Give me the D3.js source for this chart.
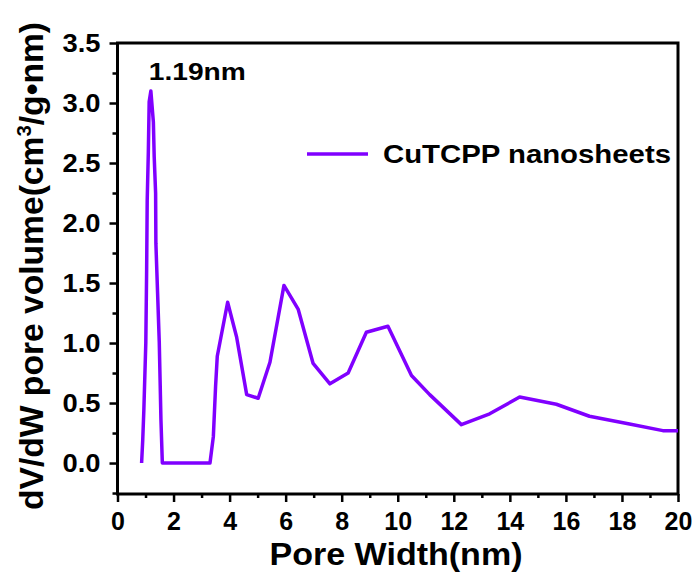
<!DOCTYPE html>
<html>
<head>
<meta charset="utf-8">
<script src="https://cdn.jsdelivr.net/npm/d3@7"></script>
<style>
  body { margin: 0; background: #fff; }
  text { font-family: Arial, "Liberation Sans", sans-serif; font-weight: bold; fill: #000; }
</style>
</head>
<body>
<svg width="699" height="577"></svg>
<script>
// pore width (nm) and dV/dW values
var poreWidth = [0.86, 0.90, 0.94, 1.01, 1.04, 1.06, 1.10, 1.13, 1.19, 1.28, 1.31, 1.36, 1.37, 1.43, 1.49, 1.52, 1.55, 1.60,
    3.30, 3.42, 3.50, 3.56, 3.93, 4.25, 4.61, 5.02, 5.44, 5.94, 6.45, 6.98, 7.58, 8.23, 8.88, 9.65,
    10.49, 11.14, 12.27, 13.28, 14.35, 15.66, 16.84, 18.27, 19.46, 20.0];
var poreVolume = [0, 0.19, 0.44, 1.00, 1.61, 2.19, 2.59, 3.01, 3.10, 2.84, 2.55, 2.25, 1.83, 1.42, 1.01, 0.69, 0.36, 0,
    0, 0.22, 0.64, 0.89, 1.34, 1.05, 0.57, 0.54, 0.84, 1.48, 1.28, 0.83, 0.66, 0.75, 1.09, 1.14,
    0.73, 0.57, 0.32, 0.41, 0.55, 0.49, 0.39, 0.325, 0.27, 0.27];

var seriesName = 'CuTCPP nanosheets';
var peakLabel = '1.19nm';
var peakX = 1.19;
var peakY = 3.10;

var xTicks = [0, 2, 4, 6, 8, 10, 12, 14, 16, 18, 20];
var xMinorTicks = [1, 3, 5, 7, 9, 11, 13, 15, 17, 19];
var yTicks = [0, 0.5, 1.0, 1.5, 2.0, 2.5, 3.0, 3.5];
var yMinorTicks = [-0.25, 0.25, 0.75, 1.25, 1.75, 2.25, 2.75, 3.25];

var lineColor = '#8000ff';

var svg = d3.select('svg');

var plot = {l: 117.5, r: 678, t: 43, b: 494};

var xScale = d3.scaleLinear()
    .domain([0, 20])
    .range([plot.l, plot.r]);
var yScale = d3.scaleLinear()
    .domain([-0.258, 3.5])
    .range([plot.b, plot.t]);

var data = poreWidth.map(function(x, i) {
    return {x: x, y: poreVolume[i]};
});

// minor ticks first, majors on top
svg.append('g')
    .attr('transform', 'translate(0,' + plot.b + ')')
    .call(d3.axisBottom(xScale).tickValues(xMinorTicks).tickSize(4).tickFormat(''))
    .call(g => g.select('.domain').remove());
svg.append('g')
    .attr('transform', 'translate(' + plot.l + ',0)')
    .call(d3.axisLeft(yScale).tickValues(yMinorTicks).tickSize(5).tickFormat(''))
    .call(g => g.select('.domain').remove());

var xAxis = svg.append('g')
    .attr('transform', 'translate(0,' + plot.b + ')')
    .call(d3.axisBottom(xScale).tickValues(xTicks).tickSize(8).tickFormat(d3.format('d')))
    .call(g => g.select('.domain').remove());
xAxis.selectAll('text')
    .attr('y', 36)
    .attr('dy', 0)
    .style('font-size', '25px');

var yAxis = svg.append('g')
    .attr('transform', 'translate(' + plot.l + ',0)')
    .call(d3.axisLeft(yScale).tickValues(yTicks).tickSize(8).tickPadding(9).tickFormat(d3.format('.1f')))
    .call(g => g.select('.domain').remove());
yAxis.selectAll('text')
    .style('font-size', '25px')
    .attr('textLength', 38)
    .attr('lengthAdjust', 'spacingAndGlyphs');

svg.selectAll('.tick line')
    .attr('stroke', '#000')
    .attr('stroke-width', 2.5);

// frame
svg.append('rect')
    .attr('x', plot.l)
    .attr('y', plot.t)
    .attr('width', plot.r - plot.l)
    .attr('height', plot.b - plot.t)
    .attr('fill', 'none')
    .attr('stroke', '#000')
    .attr('stroke-width', 3);

var line = d3.line()
    .x(d => xScale(d.x))
    .y(d => yScale(d.y));

svg.append('path')
    .datum(data)
    .attr('d', line)
    .attr('fill', 'none')
    .attr('stroke', lineColor)
    .attr('stroke-width', 3.5)
    .attr('stroke-linejoin', 'round');

// peak label
svg.append('text')
    .attr('x', xScale(peakX) - 2)
    .attr('y', yScale(peakY) - 11)
    .style('font-size', '24px')
    .attr('textLength', 97)
    .attr('lengthAdjust', 'spacingAndGlyphs')
    .text(peakLabel);

// legend
svg.append('line')
    .attr('x1', 307).attr('x2', 368)
    .attr('y1', 154).attr('y2', 154)
    .attr('stroke', lineColor)
    .attr('stroke-width', 3.5);
svg.append('text')
    .attr('x', 383)
    .attr('y', 163)
    .style('font-size', '25px')
    .attr('textLength', 288)
    .attr('lengthAdjust', 'spacingAndGlyphs')
    .text(seriesName);

// axis titles
svg.append('text')
    .attr('x', 396)
    .attr('y', 565)
    .attr('text-anchor', 'middle')
    .style('font-size', '32px')
    .attr('textLength', 253)
    .attr('lengthAdjust', 'spacingAndGlyphs')
    .text('Pore Width(nm)');

var yTitle = svg.append('text')
    .attr('transform', 'translate(43,266) rotate(-90)')
    .attr('text-anchor', 'middle')
    .style('font-size', '33px')
    .attr('textLength', 488)
    .attr('lengthAdjust', 'spacingAndGlyphs');
yTitle.append('tspan').text('dV/dW pore volume(cm');
yTitle.append('tspan').attr('dy', -12).style('font-size', '20px').text('3');
yTitle.append('tspan').attr('dy', 12).text('/g\u2022nm)');
</script>
</body>
</html>
